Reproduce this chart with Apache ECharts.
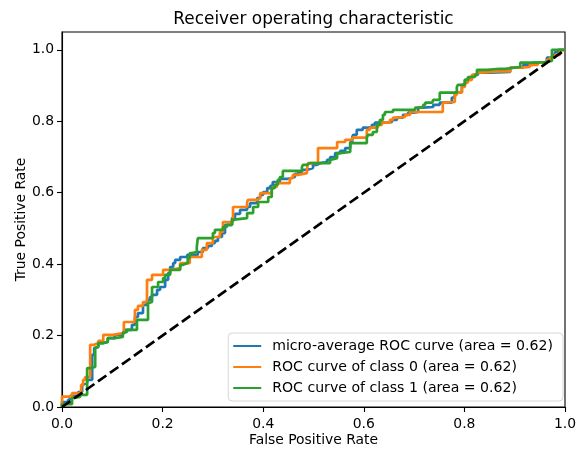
<!DOCTYPE html>
<html>
<head>
<meta charset="utf-8">
<script src="https://cdn.jsdelivr.net/npm/echarts@6/dist/echarts.min.js"></script>
<style>html,body{margin:0;padding:0;background:#fff}#c{width:577px;height:449px}</style>
</head>
<body>
<div id="c"></div>
<script>
// ---- data: [false positive rate, true positive rate] ----
const microRoc = [[0,0],[0,0.014],[0.012,0.014],[0.016,0.020],[0.032,0.031],[0.040,0.042],[0.042,0.062],[0.050,0.067],[0.052,0.076],[0.060,0.076],[0.060,0.118],[0.064,0.146],[0.066,0.165],[0.072,0.168],[0.082,0.179],[0.091,0.182],[0.105,0.193],[0.121,0.202],[0.125,0.210],[0.139,0.216],[0.145,0.230],[0.151,0.252],[0.161,0.263],[0.169,0.286],[0.175,0.300],[0.179,0.308],[0.189,0.314],[0.195,0.328],[0.205,0.336],[0.211,0.356],[0.215,0.375],[0.221,0.392],[0.225,0.403],[0.235,0.412],[0.249,0.420],[0.270,0.426],[0.280,0.434],[0.290,0.445],[0.298,0.451],[0.304,0.459],[0.310,0.465],[0.318,0.476],[0.324,0.487],[0.338,0.510],[0.344,0.529],[0.354,0.541],[0.368,0.552],[0.374,0.560],[0.388,0.571],[0.394,0.585],[0.400,0.594],[0.408,0.602],[0.414,0.613],[0.419,0.619],[0.433,0.630],[0.449,0.639],[0.463,0.644],[0.467,0.653],[0.477,0.658],[0.487,0.664],[0.499,0.669],[0.507,0.678],[0.513,0.683],[0.527,0.686],[0.533,0.692],[0.543,0.700],[0.553,0.711],[0.563,0.717],[0.573,0.725],[0.577,0.742],[0.579,0.756],[0.586,0.762],[0.598,0.776],[0.606,0.782],[0.616,0.784],[0.622,0.790],[0.632,0.796],[0.646,0.796],[0.656,0.798],[0.666,0.804],[0.678,0.810],[0.688,0.818],[0.698,0.824],[0.708,0.826],[0.718,0.838],[0.738,0.840],[0.751,0.846],[0.775,0.852],[0.781,0.866],[0.785,0.880],[0.795,0.882],[0.801,0.902],[0.811,0.916],[0.817,0.924],[0.827,0.930],[0.851,0.936],[0.891,0.938],[0.917,0.950],[0.936,0.958],[0.950,0.964],[0.964,0.966],[0.976,0.978],[0.980,0.986],[0.986,0.994],[0.996,1.0],[1,1]];

const class0Roc = [[0,0],[0,0.029],[0.020,0.029],[0.038,0.039],[0.042,0.062],[0.046,0.076],[0.056,0.084],[0.056,0.154],[0.064,0.174],[0.072,0.179],[0.082,0.185],[0.101,0.202],[0.123,0.207],[0.125,0.238],[0.145,0.238],[0.145,0.263],[0.151,0.272],[0.161,0.283],[0.169,0.294],[0.169,0.336],[0.179,0.356],[0.201,0.370],[0.215,0.384],[0.235,0.389],[0.254,0.403],[0.258,0.420],[0.278,0.420],[0.288,0.440],[0.300,0.459],[0.314,0.476],[0.320,0.490],[0.324,0.518],[0.340,0.518],[0.340,0.560],[0.368,0.560],[0.370,0.574],[0.388,0.580],[0.394,0.585],[0.417,0.599],[0.419,0.608],[0.427,0.616],[0.453,0.627],[0.459,0.641],[0.469,0.650],[0.487,0.655],[0.489,0.664],[0.509,0.683],[0.509,0.697],[0.527,0.725],[0.547,0.725],[0.563,0.742],[0.577,0.748],[0.606,0.754],[0.612,0.776],[0.628,0.782],[0.636,0.790],[0.652,0.796],[0.658,0.804],[0.668,0.810],[0.682,0.812],[0.692,0.818],[0.718,0.826],[0.757,0.826],[0.761,0.852],[0.781,0.854],[0.785,0.874],[0.795,0.880],[0.801,0.896],[0.807,0.908],[0.815,0.916],[0.825,0.930],[0.831,0.936],[0.851,0.938],[0.871,0.940],[0.891,0.940],[0.911,0.950],[0.930,0.952],[0.946,0.958],[0.964,0.964],[0.970,0.972],[0.980,0.978],[0.990,0.986],[1,1]];

const class1Roc = [[0,0],[0.004,0.008],[0.020,0.008],[0.020,0.025],[0.036,0.028],[0.050,0.034],[0.050,0.090],[0.056,0.109],[0.066,0.112],[0.066,0.165],[0.072,0.168],[0.080,0.179],[0.091,0.182],[0.105,0.193],[0.121,0.196],[0.121,0.207],[0.129,0.210],[0.149,0.216],[0.149,0.244],[0.171,0.244],[0.171,0.291],[0.179,0.294],[0.179,0.322],[0.191,0.336],[0.201,0.350],[0.205,0.361],[0.215,0.370],[0.235,0.384],[0.241,0.398],[0.250,0.403],[0.254,0.417],[0.258,0.431],[0.268,0.434],[0.270,0.448],[0.278,0.473],[0.300,0.473],[0.304,0.487],[0.320,0.496],[0.328,0.504],[0.338,0.510],[0.340,0.524],[0.368,0.529],[0.380,0.543],[0.390,0.560],[0.398,0.574],[0.410,0.574],[0.417,0.588],[0.423,0.613],[0.429,0.622],[0.433,0.636],[0.439,0.644],[0.439,0.661],[0.477,0.661],[0.479,0.672],[0.487,0.678],[0.493,0.683],[0.533,0.683],[0.533,0.692],[0.547,0.697],[0.553,0.711],[0.573,0.714],[0.579,0.739],[0.606,0.739],[0.608,0.754],[0.618,0.762],[0.626,0.770],[0.632,0.790],[0.638,0.804],[0.642,0.818],[0.658,0.826],[0.678,0.832],[0.702,0.832],[0.706,0.838],[0.718,0.838],[0.722,0.846],[0.736,0.852],[0.738,0.854],[0.751,0.860],[0.761,0.880],[0.785,0.880],[0.787,0.896],[0.801,0.902],[0.807,0.916],[0.821,0.924],[0.825,0.930],[0.845,0.944],[0.871,0.947],[0.881,0.947],[0.911,0.952],[0.944,0.964],[0.960,0.966],[0.974,0.969],[0.974,1.0],[1,1]];

const chanceLine = [[0,0],[1,1]];
const seriesNames = ['micro-average ROC curve (area = 0.62)', 'ROC curve of class 0 (area = 0.62)', 'ROC curve of class 1 (area = 0.62)'];
const tickValues = [0, 0.2, 0.4, 0.6, 0.8, 1.0];

const FONT = 'DejaVu Sans';
const chart = echarts.init(document.getElementById('c'), null, {renderer: 'canvas'});

function rocSeries(name, data, color) {
  return {
    name: name, type: 'line', data: data, step: 'start',
    symbol: 'none', showSymbol: false, animation: false,
    lineStyle: {color: color, width: 2.7}, itemStyle: {color: color},
    emphasis: {disabled: true}
  };
}

const axisCommon = {
  axisLine: {show: true, onZero: false, lineStyle: {color: '#000', width: 1.1}},
  axisTick: {show: true, inside: false, length: 5, lineStyle: {color: '#000', width: 1.1}, customValues: tickValues},
  splitLine: {show: false},
  nameTextStyle: {fontFamily: FONT, fontSize: 13.9, color: '#000'},
  nameLocation: 'middle',
  nameMoveOverlap: false
};

chart.setOption({
  backgroundColor: '#fff',
  animation: false,
  title: {
    text: 'Receiver operating characteristic',
    left: 313.5, top: 11, textAlign: 'center', padding: 0,
    textStyle: {fontFamily: FONT, fontSize: 16.9, fontWeight: 'normal', color: '#000'}
  },
  grid: {left: 62, right: 12, top: 32, bottom: 42, show: true, borderColor: '#000', borderWidth: 1.1, backgroundColor: 'transparent', containLabel: false, outerBoundsMode: 'none'},
  xAxis: Object.assign({}, axisCommon, {
    type: 'value', min: 0, max: 1, interval: 0.2,
    name: 'False Positive Rate', nameGap: 26,
    axisLabel: {fontFamily: FONT, fontSize: 13.9, color: '#000', margin: 10, customValues: tickValues, formatter: v => v.toFixed(1)}
  }),
  yAxis: Object.assign({}, axisCommon, {
    type: 'value', min: 0, max: 1.05,
    name: 'True Positive Rate', nameGap: 34,
    axisLabel: {fontFamily: FONT, fontSize: 13.9, color: '#000', margin: 8, customValues: tickValues, formatter: v => v.toFixed(1)}
  }),
  legend: {
    data: seriesNames,
    orient: 'vertical', right: 14, bottom: 48,
    padding: [6, 10, 6, 5], itemGap: 7,
    itemWidth: 28, itemHeight: 2, icon: 'rect',
    backgroundColor: 'rgba(255,255,255,0.8)', borderColor: '#d6d6d6', borderWidth: 1, borderRadius: 4,
    selectedMode: false,
    textStyle: {fontFamily: FONT, fontSize: 14.1, color: '#000', lineHeight: 14, padding: [0, 0, 0, 6]}
  },
  series: [
    rocSeries(seriesNames[0], microRoc, '#1f77b4'),
    rocSeries(seriesNames[1], class0Roc, '#ff7f0e'),
    rocSeries(seriesNames[2], class1Roc, '#2ca02c'),
    {
      name: 'chance', type: 'line', data: chanceLine, symbol: 'none', showSymbol: false,
      lineStyle: {color: '#000', width: 2.7, type: [10.3, 4.4]}, emphasis: {disabled: true}, z: 3
    }
  ]
});
</script>
</body>
</html>
